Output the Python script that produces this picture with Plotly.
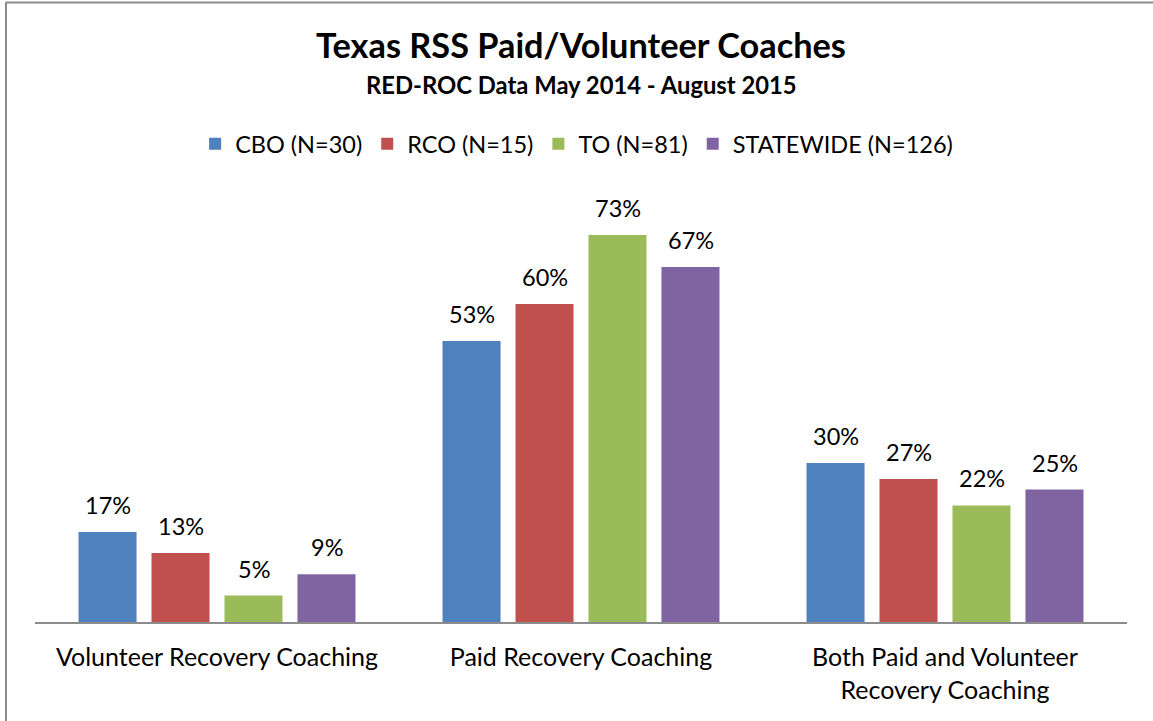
import plotly.graph_objects as go

categories = ["Volunteer Recovery Coaching", "Paid Recovery Coaching",
              "Both Paid and Volunteer<br>Recovery Coaching"]
series_names = ["CBO (N=30)", "RCO (N=15)", "TO (N=81)", "STATEWIDE (N=126)"]
cbo = [0.17, 0.53, 0.30]
rco = [0.13, 0.60, 0.27]
to = [0.05, 0.73, 0.22]
statewide = [0.09, 0.67, 0.25]
series_values = [cbo, rco, to, statewide]
colors = ["#4F81BD", "#C0504D", "#9BBB59", "#8064A2"]

FONT = "Lato"
fig = go.Figure()
for name, vals, col in zip(series_names, series_values, colors):
    fig.add_trace(go.Bar(x=categories, y=vals, name=name, marker_color=col,
                         marker_line_width=0))

annotations = []
slot = 73
for i, vals in enumerate(series_values):
    for c, v in zip(categories, vals):
        annotations.append(dict(x=c, y=v, xref="x", yref="y", text=f"{round(v*100)}%",
                                showarrow=False, xshift=(i - 1.5) * slot, yshift=27,
                                yanchor="middle",
                                font=dict(family=FONT, size=23.5, color="#000")))
annotations.append(dict(x=0.5, y=1 + (198 - 85) / 424, xref="paper", yref="paper",
                        text="<b>RED-ROC Data May 2014 - August 2015</b>", showarrow=False,
                        yanchor="middle", font=dict(family=FONT, size=23.8, color="#000")))

fig.update_layout(
    width=1153, height=721,
    margin=dict(l=35, r=26, t=198, b=99),
    paper_bgcolor="white", plot_bgcolor="white",
    barmode="group", bargap=0.198, bargroupgap=0.205,
    title=dict(text="<b>Texas RSS Paid/Volunteer Coaches</b>", x=0.5 * (35 + 1127) / 1153,
               xanchor="center", y=1 - 46 / 721, yanchor="middle",
               font=dict(family=FONT, size=34.3, color="#000")),
    legend=dict(orientation="h", x=0.496, xanchor="center", y=1 + 54 / 424, yanchor="middle",
                font=dict(family=FONT, size=23.5, color="#000"), itemclick=False,
                tracegroupgap=0),
    xaxis=dict(showline=True, linecolor="#8c8c8c", linewidth=2, ticks="",
               ticklabelstandoff=12,
               tickfont=dict(family=FONT, size=25, color="#000"), showgrid=False),
    yaxis=dict(range=[0, 0.8], visible=False, showgrid=False, zeroline=False),
    annotations=annotations,
    showlegend=True,
)
fig.add_shape(type="line", xref="paper", yref="paper",
              x0=(6 - 35) / 1092, x1=(1153 - 35) / 1092,
              y0=1 + (198 - 2.5) / 424, y1=1 + (198 - 2.5) / 424,
              line=dict(color="#8c8c8c", width=2))
fig.add_shape(type="line", xref="paper", yref="paper",
              x0=(6 - 35) / 1092, x1=(6 - 35) / 1092,
              y0=1 + (198 - 2) / 424, y1=-(99 + 5) / 424,
              line=dict(color="#8c8c8c", width=2))
fig.write_html("out.html", config={"displayModeBar": False},
               post_script="document.body.style.margin='0';")
